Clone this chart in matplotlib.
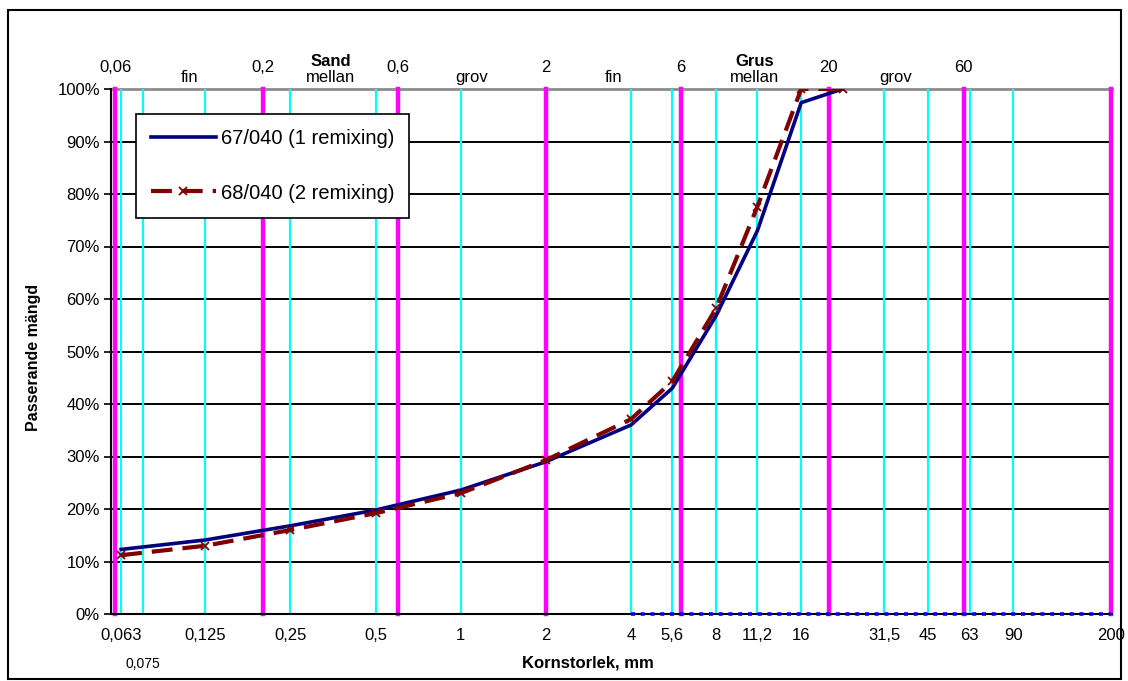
import matplotlib.pyplot as plt
from matplotlib.patches import Rectangle
from matplotlib.ticker import FuncFormatter, NullLocator
import matplotlib.transforms as mtransforms

plt.rcParams['font.family'] = ['Liberation Sans', 'DejaVu Sans']

# sieve sizes (mm) and passing percentages
sizes = [0.063, 0.125, 0.25, 0.5, 1, 2, 4, 5.6, 8, 11.2, 16, 22.4]
pass_67 = [12.3, 14.1, 16.8, 19.8, 23.6, 29.0, 36.0, 43.0, 56.8, 73.0, 97.4, 100]
pass_68 = [11.2, 13.0, 16.0, 19.2, 23.0, 29.3, 37.1, 44.3, 58.2, 77.6, 100, 100]
label_67 = "67/040 (1 remixing)"
label_68 = "68/040 (2 remixing)"

# zero line on the gravel side
zero_sizes = [4, 5.6, 8, 11.2, 16, 22.4, 31.5, 45, 63, 90, 200]
zero_vals = [0] * len(zero_sizes)

# sieve lines and labels on x axis
sieve_ticks = [0.063, 0.125, 0.25, 0.5, 1, 2, 4, 5.6, 8, 11.2, 16, 31.5, 45, 63, 90, 200]
sieve_labels = ["0,063", "0,125", "0,25", "0,5", "1", "2", "4", "5,6", "8", "11,2",
                "16", "31,5", "45", "63", "90", "200"]
cyan_lines = [0.063, 0.075, 0.125, 0.25, 0.5, 1, 4, 5.6, 8, 11.2, 16, 31.5, 45, 63, 90]

# fraction limits (top of chart)
limits = [0.06, 0.2, 0.6, 2, 6, 20, 60, 200]
limit_labels = ["0,06", "0,2", "0,6", "2", "6", "20", "60", ""]
sub_labels = ["fin", "mellan", "grov", "fin", "mellan", "grov", ""]
group_labels = {1: "Sand", 4: "Grus"}

fig = plt.figure(figsize=(11.28, 6.81), dpi=100)
W, H = 1128, 681
ax = fig.add_axes([111 / W, 1 - 614 / H, (1112 - 111) / W, (614 - 89) / H])

ax.set_xscale('log')
ax.set_xlim(0.058, 201)
ax.set_ylim(0, 100)

# horizontal grid
for v in range(10, 100, 10):
    ax.axhline(v, color='black', lw=1.4, zorder=1)
ax.axhline(100, color='#8c8c8c', lw=2, zorder=1, clip_on=False)

for x in cyan_lines:
    ax.axvline(x, color='#00FFFF', lw=1.6, zorder=2)
for x in limits:
    ax.axvline(x, color='#FF00FF', lw=3.2, zorder=3, clip_on=False)

ax.plot(zero_sizes, zero_vals, color='#0000FF', lw=2.6, dashes=(1.1, 1.6),
        zorder=6, clip_on=False)
ax.plot(sizes, pass_67, color='#000080', lw=2.6, zorder=7, label=label_67)
ax.plot(sizes, pass_68, color='#800000', lw=3, dashes=(5, 2.4), marker='x',
        markersize=6, markeredgewidth=1.3, zorder=8, label=label_68)

# axes styling
for s in ['top', 'right']:
    ax.spines[s].set_visible(False)
ax.spines['left'].set_linewidth(1.5)
ax.spines['bottom'].set_linewidth(1.5)
ax.spines['bottom'].set_zorder(5)
ax.set_yticks(range(0, 101, 10))
ax.yaxis.set_major_formatter(FuncFormatter(lambda v, p: f"{int(v)}%"))
ax.tick_params(axis='y', direction='out', length=5, width=1.2, labelsize=12, pad=3)

ax.set_xticks(sieve_ticks)
ax.set_xticklabels(sieve_labels)
ax.xaxis.set_minor_locator(NullLocator())
ax.tick_params(axis='x', length=0, labelsize=12, pad=10)

trans = mtransforms.blended_transform_factory(ax.transData, ax.transAxes)
ax.text(0.075, -0.095, "0,075", transform=trans, ha='center', va='center', fontsize=10)

# fraction labels at top
for x, lab in zip(limits, limit_labels):
    ax.text(x, 1.032, lab, transform=trans, ha='center', va='baseline', fontsize=12)
for i, lab in enumerate(sub_labels):
    if not lab:
        continue
    xm = (limits[i] * limits[i + 1]) ** 0.5
    ax.text(xm, 1.013, lab, transform=trans, ha='center', va='baseline', fontsize=12)
    if i in group_labels:
        ax.text(xm, 1.044, group_labels[i], transform=trans, ha='center',
                va='baseline', fontsize=12, fontweight='bold')

leg = ax.legend(loc='upper left', bbox_to_anchor=(0.025, 0.952), fontsize=14.5,
                frameon=True, fancybox=False, framealpha=1, edgecolor='black',
                handlelength=3.2, handletextpad=0.25, labelspacing=1.75,
                borderpad=0.75, borderaxespad=0)
leg.get_frame().set_linewidth(1.2)
leg.set_zorder(10)

fig.text(34 / W, 1 - 357 / H, "Passerande mängd", rotation=90, ha='center',
         va='center', fontsize=11.5, fontweight='bold')
fig.text(588 / W, 1 - 663 / H, "Kornstorlek, mm", ha='center', va='center',
         fontsize=12, fontweight='bold')

fig.patches.append(Rectangle((8 / W, 1 - 679 / H), (1121 - 8) / W, (679 - 10) / H,
                             transform=fig.transFigure, fill=False,
                             edgecolor='black', lw=1.5))

fig.savefig('out.png', dpi=100)
